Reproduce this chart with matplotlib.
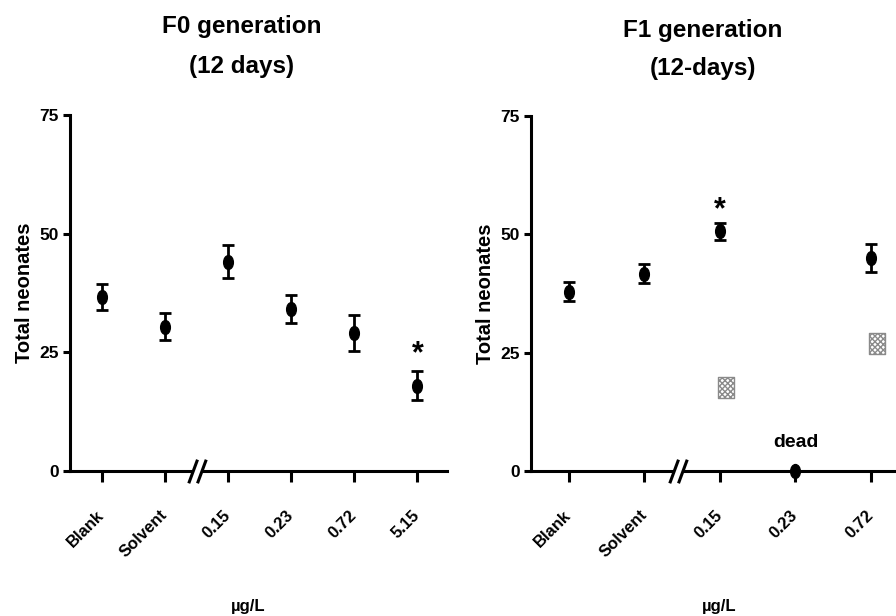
import matplotlib
matplotlib.use("Agg")
import matplotlib.pyplot as plt
import numpy as np
from matplotlib.path import Path
from matplotlib.transforms import Affine2D

plt.rcParams['font.family'] = ['Liberation Sans', 'DejaVu Sans']
plt.rcParams['font.weight'] = 'bold'

# F0 generation (12 days)
f0_labels = ['Blank', 'Solvent', '0.15', '0.23', '0.72', '5.15']
f0_mean = [36.7, 30.4, 44.1, 34.1, 29.1, 18.0]
f0_err = [2.7, 2.8, 3.5, 3.0, 3.8, 3.0]
f0_star = 5  # significant group

# F1 generation (12-days)
f1_labels = ['Blank', 'Solvent', '0.15', '0.23', '0.72']
f1_mean = [37.9, 41.7, 50.6, 0.0, 45.0]
f1_err = [2.0, 2.0, 1.8, 0.0, 3.0]
f1_dead = [False, False, False, True, False]
f1_star = 2
# grey checkered squares
sq_pos = [2, 4]
sq_val = [17.7, 26.9]

# markers
ellipse = Path.unit_circle().transformed(Affine2D().scale(0.7, 1.0))
rect = Path([(-0.37, -0.5), (0.37, -0.5), (0.37, 0.5), (-0.37, 0.5), (-0.37, -0.5)],
            [Path.MOVETO, Path.LINETO, Path.LINETO, Path.LINETO, Path.CLOSEPOLY])
slashes = Path([(-0.74, -1), (0.0, 1), (0.0, -1), (0.74, 1)],
               [Path.MOVETO, Path.LINETO, Path.MOVETO, Path.LINETO])
gap = Path([(-0.5, -0.4), (0.5, -0.4), (0.5, 0.4), (-0.5, 0.4), (-0.5, -0.4)],
           [Path.MOVETO, Path.LINETO, Path.LINETO, Path.LINETO, Path.CLOSEPOLY])

fig = plt.figure(figsize=(8.96, 6.16), dpi=100)
W, H = 896, 616
ax1 = fig.add_axes([70 / W, (H - 471) / H, (447 - 70) / W, (471 - 115) / H])
ax2 = fig.add_axes([531 / W, (H - 471) / H, (W - 531) / W, (471 - 116) / H])


def style(ax, labels, xmax, brk, xlab_x):
    ax.set_ylim(0, 75)
    ax.set_xlim(-0.5, xmax)
    ax.set_yticks([0, 25, 50, 75])
    ax.set_xticks(range(len(labels)))
    ax.set_xticklabels(labels, rotation=45, ha='right', va='center',
                       rotation_mode='anchor', fontsize=12)
    for s in ['top', 'right']:
        ax.spines[s].set_visible(False)
    for s in ['left', 'bottom']:
        ax.spines[s].set_linewidth(2.2)
    ax.tick_params(axis='y', length=5, width=2.2, labelsize=12.5, pad=3)
    ax.tick_params(axis='x', length=8, width=2.2, pad=22)
    ax.set_ylabel('Total neonates', fontsize=14.5, fontweight='bold', labelpad=4)
    ax.set_xlabel('\u00b5g/L', fontsize=12, fontweight='bold')
    ax.xaxis.set_label_coords(xlab_x, -128 / 356)
    # axis break
    ax.plot([brk], [0], marker=gap, markersize=6, color='white', mec='white',
            clip_on=False, zorder=6, ls='none')
    ax.plot([brk], [0], marker=slashes, markersize=17, color='black', mew=2.2,
            mfc='none', clip_on=False, zorder=7, ls='none')


style(ax1, f0_labels, 5.47, 1.51, 0.472)
style(ax2, f1_labels, 4.33, 1.45, 0.515)

# F0 data
x0 = np.arange(len(f0_labels))
ax1.errorbar(x0, f0_mean, yerr=f0_err, fmt='none', ecolor='black',
             elinewidth=2, capsize=4, capthick=2, zorder=3)
ax1.plot(x0, f0_mean, ls='none', marker=ellipse, markersize=10,
         color='black', zorder=4)
ax1.text(x0[f0_star], 24.5, '*', ha='center', va='center', fontsize=22,
         fontweight='bold')

# F1 data
x1 = np.arange(len(f1_labels))
alive = [i for i in x1 if not f1_dead[i]]
ax2.errorbar([x1[i] for i in alive], [f1_mean[i] for i in alive],
             yerr=[f1_err[i] for i in alive], fmt='none', ecolor='black',
             elinewidth=2, capsize=4, capthick=2, zorder=3)
ax2.plot(x1, f1_mean, ls='none', marker=ellipse, markersize=10,
         color='black', zorder=4, clip_on=False)
ax2.scatter(np.array(sq_pos) + 0.08, sq_val, marker=rect, s=230,
            facecolor='white', edgecolor='#8a8a8a', hatch='xxxxxx',
            linewidths=1.0, zorder=4)
ax2.text(x1[f1_star], 55, '*', ha='center', va='center', fontsize=22,
         fontweight='bold')
for i in x1:
    if f1_dead[i]:
        ax2.text(i, 5.0, 'dead', ha='center', va='baseline', fontsize=14,
                 fontweight='bold')

# titles
fig.text(242 / W, 1 - 33 / H, 'F0 generation', ha='center', va='baseline',
         fontsize=17.5, fontweight='bold')
fig.text(242 / W, 1 - 73 / H, '(12 days)', ha='center', va='baseline',
         fontsize=17.5, fontweight='bold')
fig.text(703 / W, 1 - 37 / H, 'F1 generation', ha='center', va='baseline',
         fontsize=17.5, fontweight='bold')
fig.text(703 / W, 1 - 75 / H, '(12-days)', ha='center', va='baseline',
         fontsize=17.5, fontweight='bold')

fig.savefig('out.png', dpi=100)
